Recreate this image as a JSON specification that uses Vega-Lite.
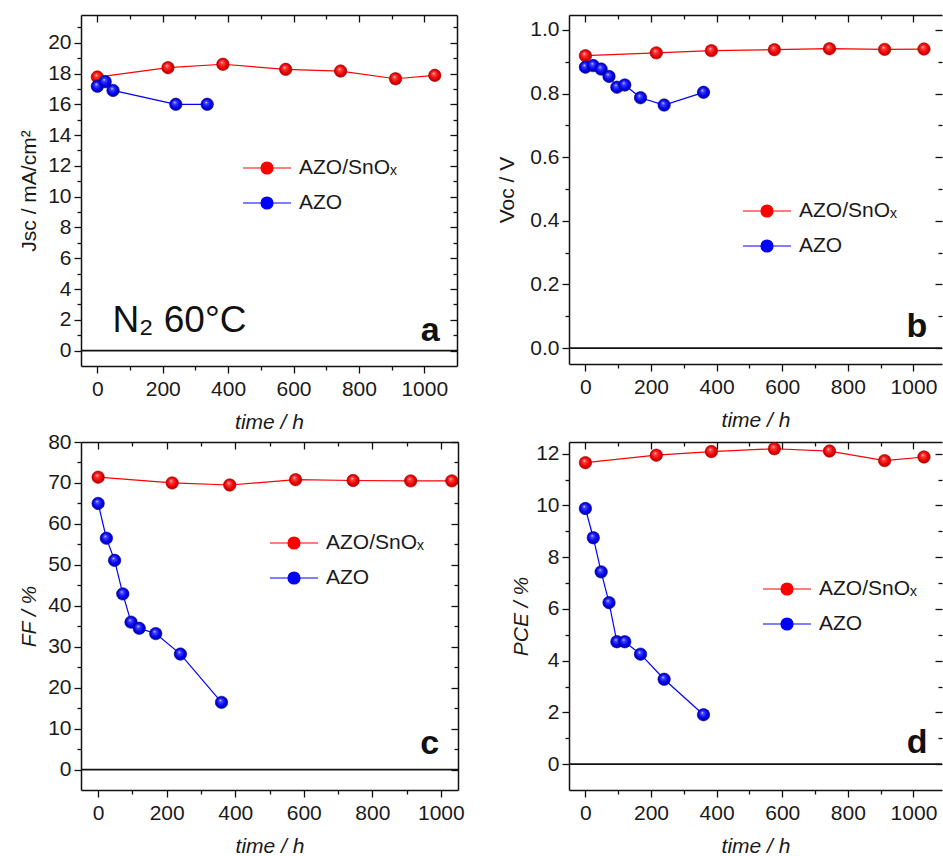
{
  "$schema": "https://vega.github.io/schema/vega-lite/v6.json",
  "padding": {"left": 18, "top": 14, "right": 0, "bottom": 0},
  "data": {"values": [
    {"panel":"a","series":"AZO/SnOₓ","time":0,"value":17.77},
    {"panel":"a","series":"AZO/SnOₓ","time":216,"value":18.38},
    {"panel":"a","series":"AZO/SnOₓ","time":384,"value":18.6},
    {"panel":"a","series":"AZO/SnOₓ","time":576,"value":18.27},
    {"panel":"a","series":"AZO/SnOₓ","time":744,"value":18.16},
    {"panel":"a","series":"AZO/SnOₓ","time":912,"value":17.66},
    {"panel":"a","series":"AZO/SnOₓ","time":1032,"value":17.88},
    {"panel":"a","series":"AZO","time":0,"value":17.17},
    {"panel":"a","series":"AZO","time":24,"value":17.47},
    {"panel":"a","series":"AZO","time":48,"value":16.9},
    {"panel":"a","series":"AZO","time":240,"value":16.0},
    {"panel":"a","series":"AZO","time":336,"value":16.0},
    {"panel":"b","series":"AZO/SnOₓ","time":0,"value":0.919},
    {"panel":"b","series":"AZO/SnOₓ","time":216,"value":0.928},
    {"panel":"b","series":"AZO/SnOₓ","time":384,"value":0.935},
    {"panel":"b","series":"AZO/SnOₓ","time":576,"value":0.938},
    {"panel":"b","series":"AZO/SnOₓ","time":744,"value":0.941},
    {"panel":"b","series":"AZO/SnOₓ","time":912,"value":0.939},
    {"panel":"b","series":"AZO/SnOₓ","time":1032,"value":0.94},
    {"panel":"b","series":"AZO","time":0,"value":0.883},
    {"panel":"b","series":"AZO","time":24,"value":0.888},
    {"panel":"b","series":"AZO","time":48,"value":0.877},
    {"panel":"b","series":"AZO","time":72,"value":0.854},
    {"panel":"b","series":"AZO","time":96,"value":0.82},
    {"panel":"b","series":"AZO","time":120,"value":0.827},
    {"panel":"b","series":"AZO","time":168,"value":0.787},
    {"panel":"b","series":"AZO","time":240,"value":0.764},
    {"panel":"b","series":"AZO","time":360,"value":0.804},
    {"panel":"c","series":"AZO/SnOₓ","time":0,"value":71.4},
    {"panel":"c","series":"AZO/SnOₓ","time":216,"value":70.0},
    {"panel":"c","series":"AZO/SnOₓ","time":384,"value":69.5},
    {"panel":"c","series":"AZO/SnOₓ","time":576,"value":70.8},
    {"panel":"c","series":"AZO/SnOₓ","time":744,"value":70.6},
    {"panel":"c","series":"AZO/SnOₓ","time":912,"value":70.5},
    {"panel":"c","series":"AZO/SnOₓ","time":1032,"value":70.5},
    {"panel":"c","series":"AZO","time":0,"value":65.0},
    {"panel":"c","series":"AZO","time":24,"value":56.5},
    {"panel":"c","series":"AZO","time":48,"value":51.1},
    {"panel":"c","series":"AZO","time":72,"value":42.9},
    {"panel":"c","series":"AZO","time":96,"value":36.0},
    {"panel":"c","series":"AZO","time":120,"value":34.5},
    {"panel":"c","series":"AZO","time":168,"value":33.2},
    {"panel":"c","series":"AZO","time":240,"value":28.2},
    {"panel":"c","series":"AZO","time":360,"value":16.4},
    {"panel":"d","series":"AZO/SnOₓ","time":0,"value":11.65},
    {"panel":"d","series":"AZO/SnOₓ","time":216,"value":11.94},
    {"panel":"d","series":"AZO/SnOₓ","time":384,"value":12.08},
    {"panel":"d","series":"AZO/SnOₓ","time":576,"value":12.19},
    {"panel":"d","series":"AZO/SnOₓ","time":744,"value":12.1},
    {"panel":"d","series":"AZO/SnOₓ","time":912,"value":11.73},
    {"panel":"d","series":"AZO/SnOₓ","time":1032,"value":11.87},
    {"panel":"d","series":"AZO","time":0,"value":9.88},
    {"panel":"d","series":"AZO","time":24,"value":8.75},
    {"panel":"d","series":"AZO","time":48,"value":7.43},
    {"panel":"d","series":"AZO","time":72,"value":6.24},
    {"panel":"d","series":"AZO","time":96,"value":4.73},
    {"panel":"d","series":"AZO","time":120,"value":4.73},
    {"panel":"d","series":"AZO","time":168,"value":4.25},
    {"panel":"d","series":"AZO","time":240,"value":3.28},
    {"panel":"d","series":"AZO","time":360,"value":1.91}
  ]},
  "columns": 2,
  "spacing": {"row": 76, "column": 111},
  "bounds": "flush",
  "resolve": {"scale": {"color": "independent", "x": "independent", "y": "independent"}, "legend": {"color": "independent"}},
  "concat": [
    {
      "width": 376, "height": 351,
      "layer": [
        {"data": {"values": [{}]}, "mark": {"type": "rule", "color": "#111", "strokeWidth": 1.8}, "encoding": {"y": {"datum": 0, "type": "quantitative", "axis": null}}},
        {"transform": [{"filter": "datum.panel === 'a'"}],
         "mark": {"type": "line", "strokeWidth": 1.2},
         "encoding": {
           "x": {"field": "time", "type": "quantitative", "scale": {"domain": [-50, 1100], "nice": false, "zero": false},
                 "axis": {"orient": "bottom", "format": "d", "values": [0,100,200,300,400,500,600,700,800,900,1000], "labelExpr": "datum.value % 200 === 0 ? datum.label : ''", "tickSize": {"condition": {"test": "datum.value % 200 === 0", "value": 7}, "value": 4}, "labelPadding": 5, "title": "time / h", "titleFontStyle": "italic", "titlePadding": 12, "labelFlush": false, "labelOverlap": false}},
           "y": {"field": "value", "type": "quantitative", "scale": {"domain": [-1, 21.8], "nice": false, "zero": false},
                 "axis": {"orient": "left", "values": [0,1,2,3,4,5,6,7,8,9,10,11,12,13,14,15,16,17,18,19,20,21], "labelExpr": "datum.value % 2 === 0 ? datum.label : ''", "tickSize": {"condition": {"test": "datum.value % 2 === 0", "value": 7}, "value": 4}, "labelPadding": 3, "title": "Jsc / mA/cm²", "titlePadding": 8, "labelOverlap": false}},
           "color": {"field": "series", "type": "nominal", "scale": {"domain": ["AZO/SnOₓ", "AZO"], "range": ["#ff0000", "#0000ff"]},
                     "legend": {"title": null, "orient": "none", "legendX": 175, "legendY": 142, "symbolType": "M-2.4,0H2.4M0.6,0A0.6,0.6,0,1,1,-0.6,0A0.6,0.6,0,1,1,0.6,0Z", "symbolSize": 400, "symbolStrokeWidth": 1.2, "labelFontSize": 21, "labelOffset": 21, "rowPadding": 14, "padding": 0, "labelColor": "#1a1a1a", "encode": {"symbols": {"update": {"fill": {"signal": "datum.value === 'AZO' ? '#0000ff' : '#ff0000'"}, "stroke": {"signal": "datum.value === 'AZO' ? '#0000ff' : '#ff0000'"}, "fillOpacity": {"value": 1}, "opacity": {"value": 1}}}}}}
         }},
        {"transform": [{"filter": "datum.panel === 'a' && datum.series === 'AZO/SnOₓ'"}],
         "mark": {"type": "point", "filled": true, "size": 155, "opacity": 1, "stroke": "#a00000", "strokeWidth": 0.6, "fill": {"gradient": "radial", "x1": 0.4, "y1": 0.33, "r1": 0, "x2": 0.5, "y2": 0.5, "r2": 0.55, "stops": [{"offset": 0, "color": "#ffeeee"}, {"offset": 0.2, "color": "#ff4545"}, {"offset": 0.65, "color": "#ee0000"}, {"offset": 1, "color": "#a00000"}]}},
         "encoding": {
           "x": {"field": "time", "type": "quantitative", "axis": {"orient": "top", "values": [0,100,200,300,400,500,600,700,800,900,1000], "labels": false, "title": null, "tickSize": {"condition": {"test": "datum.value % 200 === 0", "value": -7}, "value": -4}}},
           "y": {"field": "value", "type": "quantitative", "axis": {"orient": "right", "values": [0,1,2,3,4,5,6,7,8,9,10,11,12,13,14,15,16,17,18,19,20,21], "labels": false, "title": null, "tickSize": {"condition": {"test": "datum.value % 2 === 0", "value": -7}, "value": -4}}}
         }},
        {"transform": [{"filter": "datum.panel === 'a' && datum.series === 'AZO'"}],
         "mark": {"type": "point", "filled": true, "size": 155, "opacity": 1, "stroke": "#000090", "strokeWidth": 0.6, "fill": {"gradient": "radial", "x1": 0.4, "y1": 0.33, "r1": 0, "x2": 0.5, "y2": 0.5, "r2": 0.55, "stops": [{"offset": 0, "color": "#eeeeff"}, {"offset": 0.2, "color": "#4545ff"}, {"offset": 0.65, "color": "#0000ee"}, {"offset": 1, "color": "#000090"}]}},
         "encoding": {"x": {"field": "time", "type": "quantitative", "axis": null}, "y": {"field": "value", "type": "quantitative", "axis": null}}},
        {"data": {"values": [{"label": "a"}]}, "mark": {"type": "text", "fontSize": 34, "fontWeight": "bold", "align": "right", "baseline": "alphabetic", "color": "#111"},
         "encoding": {"x": {"datum": 1047, "type": "quantitative", "axis": null}, "y": {"datum": 0.65, "type": "quantitative", "axis": null}, "text": {"field": "label"}}},
        {"data": {"values": [{"label": "N₂ 60°C"}]}, "mark": {"type": "text", "fontSize": 37, "align": "left", "baseline": "alphabetic", "color": "#111"},
         "encoding": {"x": {"datum": 46, "type": "quantitative", "axis": null}, "y": {"datum": 1.19, "type": "quantitative", "axis": null}, "text": {"field": "label"}}}
      ],
      "resolve": {"axis": {"x": "independent", "y": "independent"}}
    },
    {
      "width": 373, "height": 349,
      "layer": [
        {"data": {"values": [{}]}, "mark": {"type": "rule", "color": "#111", "strokeWidth": 1.8}, "encoding": {"y": {"datum": 0, "type": "quantitative", "axis": null}}},
        {"transform": [{"filter": "datum.panel === 'b'"}],
         "mark": {"type": "line", "strokeWidth": 1.2},
         "encoding": {
           "x": {"field": "time", "type": "quantitative", "scale": {"domain": [-50, 1087], "nice": false, "zero": false},
                 "axis": {"orient": "bottom", "format": "d", "values": [0,100,200,300,400,500,600,700,800,900,1000], "labelExpr": "datum.value % 200 === 0 ? datum.label : ''", "tickSize": {"condition": {"test": "datum.value % 200 === 0", "value": 7}, "value": 4}, "labelPadding": 5, "title": "time / h", "titleFontStyle": "italic", "titlePadding": 12, "labelFlush": false, "labelOverlap": false}},
           "y": {"field": "value", "type": "quantitative", "scale": {"domain": [-0.05, 1.047], "nice": false, "zero": false},
                 "axis": {"orient": "left", "values": [0,0.1,0.2,0.3,0.4,0.5,0.6,0.7,0.8,0.9,1.0], "format": ".1f", "labelExpr": "round(datum.value*10) % 2 === 0 ? datum.label : ''", "tickSize": {"condition": {"test": "round(datum.value*10) % 2 === 0", "value": 7}, "value": 4}, "labelPadding": 3, "title": "Voc / V", "titlePadding": 12, "labelOverlap": false}},
           "color": {"field": "series", "type": "nominal", "scale": {"domain": ["AZO/SnOₓ", "AZO"], "range": ["#ff0000", "#0000ff"]},
                     "legend": {"title": null, "orient": "none", "legendX": 187, "legendY": 185, "symbolType": "M-2.4,0H2.4M0.6,0A0.6,0.6,0,1,1,-0.6,0A0.6,0.6,0,1,1,0.6,0Z", "symbolSize": 400, "symbolStrokeWidth": 1.2, "labelFontSize": 21, "labelOffset": 21, "rowPadding": 14, "padding": 0, "labelColor": "#1a1a1a", "encode": {"symbols": {"update": {"fill": {"signal": "datum.value === 'AZO' ? '#0000ff' : '#ff0000'"}, "stroke": {"signal": "datum.value === 'AZO' ? '#0000ff' : '#ff0000'"}, "fillOpacity": {"value": 1}, "opacity": {"value": 1}}}}}}
         }},
        {"transform": [{"filter": "datum.panel === 'b' && datum.series === 'AZO/SnOₓ'"}],
         "mark": {"type": "point", "filled": true, "size": 155, "opacity": 1, "stroke": "#a00000", "strokeWidth": 0.6, "fill": {"gradient": "radial", "x1": 0.4, "y1": 0.33, "r1": 0, "x2": 0.5, "y2": 0.5, "r2": 0.55, "stops": [{"offset": 0, "color": "#ffeeee"}, {"offset": 0.2, "color": "#ff4545"}, {"offset": 0.65, "color": "#ee0000"}, {"offset": 1, "color": "#a00000"}]}},
         "encoding": {
           "x": {"field": "time", "type": "quantitative", "axis": {"orient": "top", "values": [0,100,200,300,400,500,600,700,800,900,1000], "labels": false, "title": null, "tickSize": {"condition": {"test": "datum.value % 200 === 0", "value": -7}, "value": -4}}},
           "y": {"field": "value", "type": "quantitative", "axis": {"orient": "right", "domain": false, "values": [0,0.1,0.2,0.3,0.4,0.5,0.6,0.7,0.8,0.9,1.0], "labels": false, "title": null, "tickSize": {"condition": {"test": "round(datum.value*10) % 2 === 0", "value": -7}, "value": -4}}}
         }},
        {"transform": [{"filter": "datum.panel === 'b' && datum.series === 'AZO'"}],
         "mark": {"type": "point", "filled": true, "size": 155, "opacity": 1, "stroke": "#000090", "strokeWidth": 0.6, "fill": {"gradient": "radial", "x1": 0.4, "y1": 0.33, "r1": 0, "x2": 0.5, "y2": 0.5, "r2": 0.55, "stops": [{"offset": 0, "color": "#eeeeff"}, {"offset": 0.2, "color": "#4545ff"}, {"offset": 0.65, "color": "#0000ee"}, {"offset": 1, "color": "#000090"}]}},
         "encoding": {"x": {"field": "time", "type": "quantitative", "axis": null}, "y": {"field": "value", "type": "quantitative", "axis": null}}},
        {"data": {"values": [{"label": "b"}]}, "mark": {"type": "text", "fontSize": 34, "fontWeight": "bold", "align": "right", "baseline": "alphabetic", "color": "#111"},
         "encoding": {"x": {"datum": 1042, "type": "quantitative", "axis": null}, "y": {"datum": 0.035, "type": "quantitative", "axis": null}, "text": {"field": "label"}}}
      ],
      "resolve": {"axis": {"x": "independent", "y": "independent"}}
    },
    {
      "width": 377, "height": 348,
      "layer": [
        {"data": {"values": [{}]}, "mark": {"type": "rule", "color": "#111", "strokeWidth": 1.8}, "encoding": {"y": {"datum": 0, "type": "quantitative", "axis": null}}},
        {"transform": [{"filter": "datum.panel === 'c'"}],
         "mark": {"type": "line", "strokeWidth": 1.2},
         "encoding": {
           "x": {"field": "time", "type": "quantitative", "scale": {"domain": [-50, 1050], "nice": false, "zero": false},
                 "axis": {"orient": "bottom", "format": "d", "values": [0,100,200,300,400,500,600,700,800,900,1000], "labelExpr": "datum.value % 200 === 0 ? datum.label : ''", "tickSize": {"condition": {"test": "datum.value % 200 === 0", "value": 7}, "value": 4}, "labelPadding": 5, "title": "time / h", "titleFontStyle": "italic", "titlePadding": 12, "labelFlush": false, "labelOverlap": false}},
           "y": {"field": "value", "type": "quantitative", "scale": {"domain": [-5, 80], "nice": false, "zero": false},
                 "axis": {"orient": "left", "values": [0,5,10,15,20,25,30,35,40,45,50,55,60,65,70,75,80], "labelExpr": "datum.value % 10 === 0 ? datum.label : ''", "tickSize": {"condition": {"test": "datum.value % 10 === 0", "value": 7}, "value": 4}, "labelPadding": 3, "title": "FF / %", "titleFontStyle": "italic", "titlePadding": 8, "labelOverlap": false}},
           "color": {"field": "series", "type": "nominal", "scale": {"domain": ["AZO/SnOₓ", "AZO"], "range": ["#ff0000", "#0000ff"]},
                     "legend": {"title": null, "orient": "none", "legendX": 202, "legendY": 90, "symbolType": "M-2.4,0H2.4M0.6,0A0.6,0.6,0,1,1,-0.6,0A0.6,0.6,0,1,1,0.6,0Z", "symbolSize": 400, "symbolStrokeWidth": 1.2, "labelFontSize": 21, "labelOffset": 21, "rowPadding": 14, "padding": 0, "labelColor": "#1a1a1a", "encode": {"symbols": {"update": {"fill": {"signal": "datum.value === 'AZO' ? '#0000ff' : '#ff0000'"}, "stroke": {"signal": "datum.value === 'AZO' ? '#0000ff' : '#ff0000'"}, "fillOpacity": {"value": 1}, "opacity": {"value": 1}}}}}}
         }},
        {"transform": [{"filter": "datum.panel === 'c' && datum.series === 'AZO/SnOₓ'"}],
         "mark": {"type": "point", "filled": true, "size": 155, "opacity": 1, "stroke": "#a00000", "strokeWidth": 0.6, "fill": {"gradient": "radial", "x1": 0.4, "y1": 0.33, "r1": 0, "x2": 0.5, "y2": 0.5, "r2": 0.55, "stops": [{"offset": 0, "color": "#ffeeee"}, {"offset": 0.2, "color": "#ff4545"}, {"offset": 0.65, "color": "#ee0000"}, {"offset": 1, "color": "#a00000"}]}},
         "encoding": {
           "x": {"field": "time", "type": "quantitative", "axis": {"orient": "top", "values": [0,100,200,300,400,500,600,700,800,900,1000], "labels": false, "title": null, "tickSize": {"condition": {"test": "datum.value % 200 === 0", "value": -7}, "value": -4}}},
           "y": {"field": "value", "type": "quantitative", "axis": {"orient": "right", "values": [0,5,10,15,20,25,30,35,40,45,50,55,60,65,70,75,80], "labels": false, "title": null, "tickSize": {"condition": {"test": "datum.value % 10 === 0", "value": -7}, "value": -4}}}
         }},
        {"transform": [{"filter": "datum.panel === 'c' && datum.series === 'AZO'"}],
         "mark": {"type": "point", "filled": true, "size": 155, "opacity": 1, "stroke": "#000090", "strokeWidth": 0.6, "fill": {"gradient": "radial", "x1": 0.4, "y1": 0.33, "r1": 0, "x2": 0.5, "y2": 0.5, "r2": 0.55, "stops": [{"offset": 0, "color": "#eeeeff"}, {"offset": 0.2, "color": "#4545ff"}, {"offset": 0.65, "color": "#0000ee"}, {"offset": 1, "color": "#000090"}]}},
         "encoding": {"x": {"field": "time", "type": "quantitative", "axis": null}, "y": {"field": "value", "type": "quantitative", "axis": null}}},
        {"data": {"values": [{"label": "c"}]}, "mark": {"type": "text", "fontSize": 34, "fontWeight": "bold", "align": "right", "baseline": "alphabetic", "color": "#111"},
         "encoding": {"x": {"datum": 995, "type": "quantitative", "axis": null}, "y": {"datum": 3.9, "type": "quantitative", "axis": null}, "text": {"field": "label"}}}
      ],
      "resolve": {"axis": {"x": "independent", "y": "independent"}}
    },
    {
      "width": 373, "height": 348,
      "layer": [
        {"data": {"values": [{}]}, "mark": {"type": "rule", "color": "#111", "strokeWidth": 1.8}, "encoding": {"y": {"datum": 0, "type": "quantitative", "axis": null}}},
        {"transform": [{"filter": "datum.panel === 'd'"}],
         "mark": {"type": "line", "strokeWidth": 1.2},
         "encoding": {
           "x": {"field": "time", "type": "quantitative", "scale": {"domain": [-50, 1087], "nice": false, "zero": false},
                 "axis": {"orient": "bottom", "format": "d", "values": [0,100,200,300,400,500,600,700,800,900,1000], "labelExpr": "datum.value % 200 === 0 ? datum.label : ''", "tickSize": {"condition": {"test": "datum.value % 200 === 0", "value": 7}, "value": 4}, "labelPadding": 5, "title": "time / h", "titleFontStyle": "italic", "titlePadding": 12, "labelFlush": false, "labelOverlap": false}},
           "y": {"field": "value", "type": "quantitative", "scale": {"domain": [-1, 12.45], "nice": false, "zero": false},
                 "axis": {"orient": "left", "values": [0,1,2,3,4,5,6,7,8,9,10,11,12], "labelExpr": "datum.value % 2 === 0 ? datum.label : ''", "tickSize": {"condition": {"test": "datum.value % 2 === 0", "value": 7}, "value": 4}, "labelPadding": 3, "title": "PCE / %", "titleFontStyle": "italic", "titlePadding": 4, "labelOverlap": false}},
           "color": {"field": "series", "type": "nominal", "scale": {"domain": ["AZO/SnOₓ", "AZO"], "range": ["#ff0000", "#0000ff"]},
                     "legend": {"title": null, "orient": "none", "legendX": 207, "legendY": 136, "symbolType": "M-2.4,0H2.4M0.6,0A0.6,0.6,0,1,1,-0.6,0A0.6,0.6,0,1,1,0.6,0Z", "symbolSize": 400, "symbolStrokeWidth": 1.2, "labelFontSize": 21, "labelOffset": 21, "rowPadding": 14, "padding": 0, "labelColor": "#1a1a1a", "encode": {"symbols": {"update": {"fill": {"signal": "datum.value === 'AZO' ? '#0000ff' : '#ff0000'"}, "stroke": {"signal": "datum.value === 'AZO' ? '#0000ff' : '#ff0000'"}, "fillOpacity": {"value": 1}, "opacity": {"value": 1}}}}}}
         }},
        {"transform": [{"filter": "datum.panel === 'd' && datum.series === 'AZO/SnOₓ'"}],
         "mark": {"type": "point", "filled": true, "size": 155, "opacity": 1, "stroke": "#a00000", "strokeWidth": 0.6, "fill": {"gradient": "radial", "x1": 0.4, "y1": 0.33, "r1": 0, "x2": 0.5, "y2": 0.5, "r2": 0.55, "stops": [{"offset": 0, "color": "#ffeeee"}, {"offset": 0.2, "color": "#ff4545"}, {"offset": 0.65, "color": "#ee0000"}, {"offset": 1, "color": "#a00000"}]}},
         "encoding": {
           "x": {"field": "time", "type": "quantitative", "axis": {"orient": "top", "values": [0,100,200,300,400,500,600,700,800,900,1000], "labels": false, "title": null, "tickSize": {"condition": {"test": "datum.value % 200 === 0", "value": -7}, "value": -4}}},
           "y": {"field": "value", "type": "quantitative", "axis": {"orient": "right", "domain": false, "values": [0,1,2,3,4,5,6,7,8,9,10,11,12], "labels": false, "title": null, "tickSize": {"condition": {"test": "datum.value % 2 === 0", "value": -7}, "value": -4}}}
         }},
        {"transform": [{"filter": "datum.panel === 'd' && datum.series === 'AZO'"}],
         "mark": {"type": "point", "filled": true, "size": 155, "opacity": 1, "stroke": "#000090", "strokeWidth": 0.6, "fill": {"gradient": "radial", "x1": 0.4, "y1": 0.33, "r1": 0, "x2": 0.5, "y2": 0.5, "r2": 0.55, "stops": [{"offset": 0, "color": "#eeeeff"}, {"offset": 0.2, "color": "#4545ff"}, {"offset": 0.65, "color": "#0000ee"}, {"offset": 1, "color": "#000090"}]}},
         "encoding": {"x": {"field": "time", "type": "quantitative", "axis": null}, "y": {"field": "value", "type": "quantitative", "axis": null}}},
        {"data": {"values": [{"label": "d"}]}, "mark": {"type": "text", "fontSize": 34, "fontWeight": "bold", "align": "right", "baseline": "alphabetic", "color": "#111"},
         "encoding": {"x": {"datum": 1043, "type": "quantitative", "axis": null}, "y": {"datum": 0.42, "type": "quantitative", "axis": null}, "text": {"field": "label"}}}
      ],
      "resolve": {"axis": {"x": "independent", "y": "independent"}}
    }
  ],
  "config": {
    "font": "Liberation Sans",
    "view": {"stroke": null},
    "axis": {"grid": false, "domainColor": "#111", "domainWidth": 1.5, "tickColor": "#111", "tickWidth": 1.3, "labelFontSize": 21, "labelColor": "#1a1a1a", "titleFontSize": 21, "titleFontWeight": "normal", "titleColor": "#1a1a1a", "labelFont": "Liberation Sans", "titleFont": "Liberation Sans"},
    "legend": {"labelFont": "Liberation Sans"}
  }
}
